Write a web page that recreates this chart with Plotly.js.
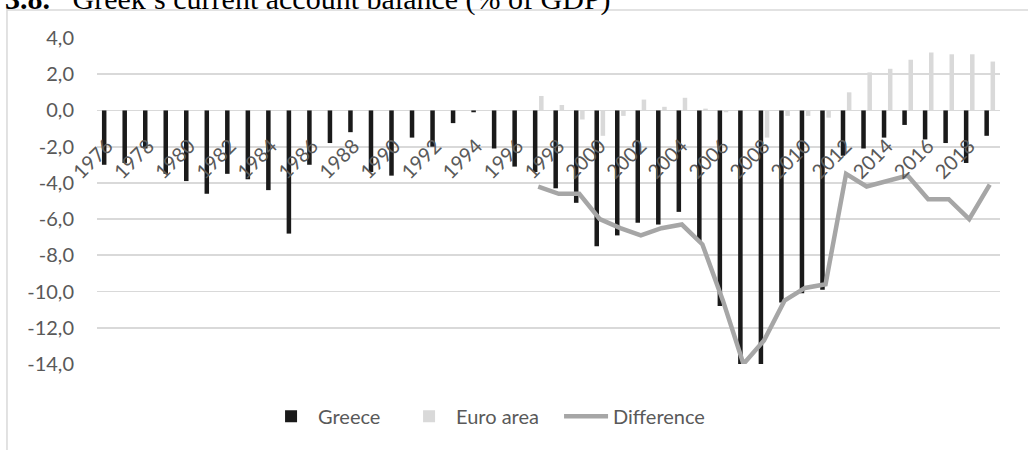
<!DOCTYPE html>
<html>
<head>
<meta charset="utf-8">
<script src="https://cdn.plot.ly/plotly-3.0.1.min.js"></script>
<style>
  html, body { margin: 0; padding: 0; background: #ffffff; }
  #chart { width: 1028px; height: 450px; }
</style>
</head>
<body>
<div id="chart"></div>
<script>
// Current account balance, % of GDP
const years = [
  1976, 1977, 1978, 1979, 1980, 1981, 1982, 1983, 1984, 1985,
  1986, 1987, 1988, 1989, 1990, 1991, 1992, 1993, 1994, 1995,
  1996, 1997, 1998, 1999, 2000, 2001, 2002, 2003, 2004, 2005,
  2006, 2007, 2008, 2009, 2010, 2011, 2012, 2013, 2014, 2015,
  2016, 2017, 2018, 2019
];

const greece = [
  -3.0, -2.9, -2.1, -3.5, -3.9, -4.6, -3.5, -3.8, -4.4, -6.8,
  -3.0, -1.8, -1.2, -3.4, -3.6, -1.5, -2.0, -0.7, -0.1, -2.1,
  -3.1, -3.4, -4.3, -5.1, -7.5, -6.9, -6.2, -6.3, -5.6, -7.2,
  -10.8, -14.0, -14.2, -10.6, -10.1, -9.9, -2.5, -2.1, -1.5, -0.8,
  -1.6, -1.8, -2.9, -1.4
];

// Euro area series begins in 1997
const euroYears = [
  1997, 1998, 1999, 2000, 2001, 2002, 2003, 2004, 2005, 2006,
  2007, 2008, 2009, 2010, 2011, 2012, 2013, 2014, 2015, 2016,
  2017, 2018, 2019
];
const euroArea = [
  0.8, 0.3, -0.5, -1.4, -0.3, 0.6, 0.2, 0.7, 0.1, -0.1,
  0.0, -1.5, -0.3, -0.3, -0.4, 1.0, 2.1, 2.3, 2.8, 3.2,
  3.1, 3.1, 2.7
];
const difference = [
  -4.2, -4.6, -4.6, -6.0, -6.5, -6.9, -6.5, -6.3, -7.4, -10.5,
  -14.0, -12.7, -10.5, -9.8, -9.6, -3.5, -4.2, -3.9, -3.6, -4.9,
  -4.9, -6.0, -4.1
];

const yTickVals = [4, 2, 0, -2, -4, -6, -8, -10, -12, -14];
const yTickText = ['4,0', '2,0', '0,0', '-2,0', '-4,0', '-6,0', '-8,0', '-10,0', '-12,0', '-14,0'];
const xTickVals = [1976, 1978, 1980, 1982, 1984, 1986, 1988, 1990, 1992, 1994, 1996,
                   1998, 2000, 2002, 2004, 2006, 2008, 2010, 2012, 2014, 2016, 2018];
const xTickText = xTickVals.map(String);

const labelFont = { family: 'Lato, "Noto Sans", sans-serif', size: 20, color: '#595959' };

const traces = [
  {
    type: 'bar', name: 'Greece', x: years, y: greece,
    width: 0.22, offset: -0.26,
    marker: { color: '#1a1a1a', line: { width: 0 } },
    legendwidth: 79,
    hoverinfo: 'x+y'
  },
  {
    type: 'bar', name: 'Euro area', x: euroYears, y: euroArea,
    width: 0.22, offset: 0.04,
    marker: { color: '#d9d9d9', line: { width: 0 } },
    legendwidth: 98,
    hoverinfo: 'x+y'
  },
  {
    type: 'scatter', mode: 'lines', name: 'Difference', x: euroYears, y: difference,
    line: { color: '#a6a6a6', width: 4.5, shape: 'linear' },
    hoverinfo: 'x+y'
  }
];

const layout = {
  width: 1028, height: 450,
  margin: { l: 97, r: 28, t: 38, b: 86 },
  paper_bgcolor: '#ffffff',
  plot_bgcolor: 'rgba(0,0,0,0)',
  barmode: 'overlay',
  showlegend: true,
  legend: {
    orientation: 'h',
    x: 0.185, xanchor: 'left',
    y: -0.16, yanchor: 'middle',
    font: labelFont,
    itemwidth: 44,
    traceorder: 'normal'
  },
  xaxis: {
    type: 'linear',
    range: [1975.5, 2019.5],
    anchor: 'free',
    position: 14 / 18,
    tickmode: 'array',
    tickvals: xTickVals,
    ticktext: xTickText,
    tickangle: -45,
    tickfont: labelFont,
    ticks: '',
    ticklabelstandoff: 19,
    showgrid: false,
    zeroline: false,
    showline: false
  },
  yaxis: {
    range: [-14, 4],
    tickmode: 'array',
    tickvals: yTickVals,
    ticktext: yTickText,
    tickfont: labelFont,
    ticks: '',
    ticklabelstandoff: 22,
    showgrid: true,
    gridcolor: '#d9d9d9',
    gridwidth: 1.8,
    zeroline: false,
    showline: false
  },
  annotations: [
    {
      xref: 'paper', yref: 'paper',
      x: -0.104, y: 1.060,
      xanchor: 'left', yanchor: 'bottom',
      showarrow: false,
      text: '<b>3.8.</b>\u00a0\u00a0 Greek\u2019s current account balance (% of GDP)',
      font: { family: '"Liberation Serif", "Times New Roman", serif', size: 30, color: '#000000' }
    }
  ],
  shapes: [
    {
      type: 'rect', xref: 'paper', yref: 'paper',
      x0: -0.0997, x1: 1.2, y0: -0.6, y1: 1.0859,
      line: { color: '#d9d9d9', width: 1.5 },
      fillcolor: 'rgba(0,0,0,0)',
      layer: 'above'
    }
  ]
};

Plotly.newPlot('chart', traces, layout, { staticPlot: true, displayModeBar: false });
</script>
</body>
</html>
